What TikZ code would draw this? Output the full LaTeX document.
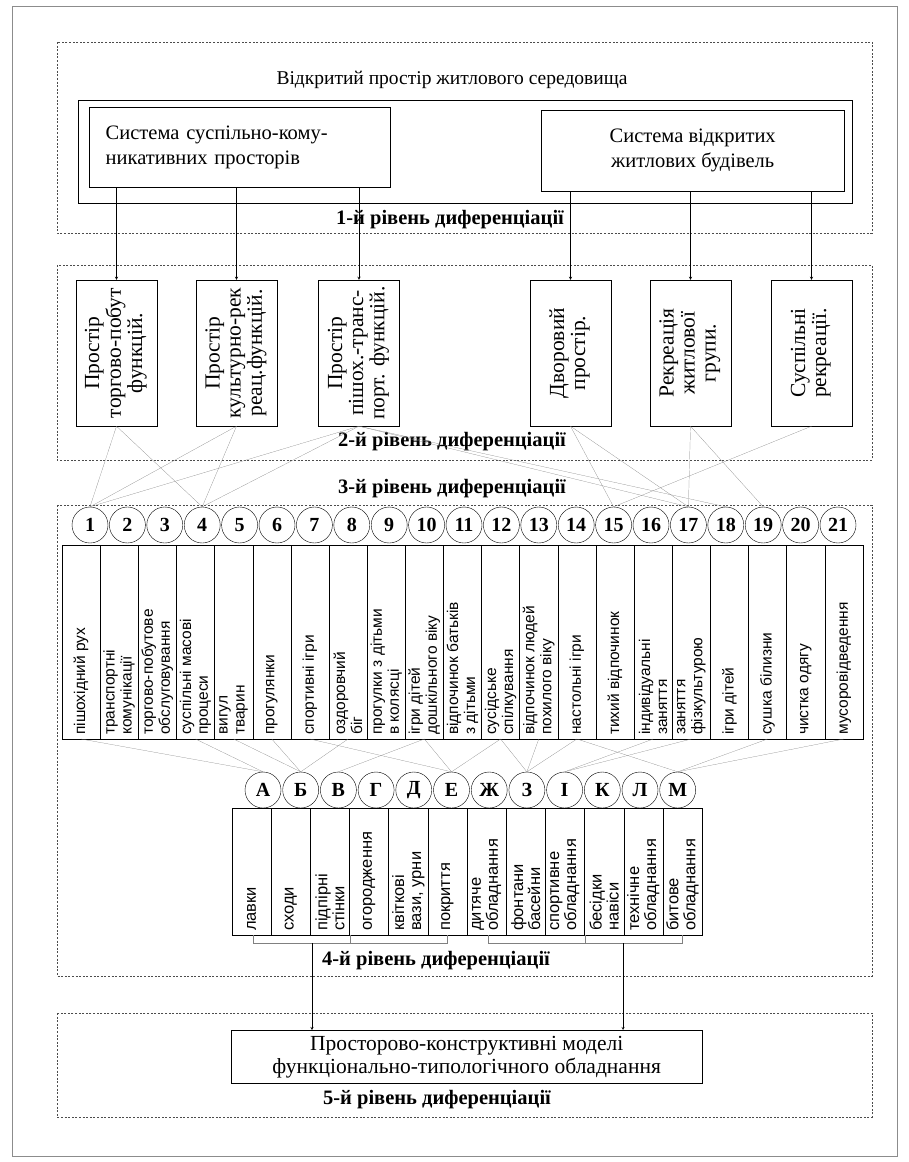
\documentclass[tikz,border=0pt]{standalone}
\usepackage{fontspec}
\setmainfont{Liberation Serif}
\setsansfont{Liberation Sans}
\usepackage{graphicx}
\usetikzlibrary{arrows}
\tikzstyle{frame} = [draw=black!70, dash pattern=on 2pt off 1.6pt]
\tikzstyle{sysbox} = [rectangle, draw=black, thin, inner sep=0pt, anchor=north west, font=\fontsize{20.5}{25}\selectfont]
\tikzstyle{space} = [rectangle, draw=black, thin, minimum width=81pt, minimum height=146pt, inner sep=0pt, font=\fontsize{21.5}{21}\selectfont]
\tikzstyle{num} = [circle, draw=black, thin, minimum size=36pt, inner sep=0pt, font=\fontsize{20}{20}\selectfont\bfseries]
\tikzstyle{lab} = [rotate=90, anchor=west, inner sep=0pt, align=left, font=\sffamily\fontsize{15.5}{17}\selectfont]
\tikzstyle{level} = [font=\fontsize{20.5}{20}\selectfont\bfseries]
\tikzstyle{arrow} = [thin,->,>=stealth]
\tikzstyle{link} = [black!50, very thin]

\begin{document}
\begin{tikzpicture}[x=1pt, y=-1pt]
\useasboundingbox (0,0) rectangle (909,1162);
\draw [black!45] (12,6) rectangle (897,1156);

\draw [frame] (57,42) rectangle (872,233);
\draw [frame] (57,265) rectangle (872,460);
\draw [frame] (57,505) rectangle (872,976);
\draw [frame] (57,1013) rectangle (872,1117);

\node (title) [font=\fontsize{19.5}{22}\selectfont] at (452,80) {Відкритий простір житлового середовища};
\draw (78,100) rectangle (852,203);
\node (sys1) [sysbox, minimum width=301pt, minimum height=80pt, text width=268pt, align=left] at (89,107) {Система суспільно-кому-\\никативних просторів};
\node (sys2) [sysbox, minimum width=303pt, minimum height=81pt, align=center] at (541,110) {Система відкритих\\житлових будівель};
\node (lev1) [level] at (450,220) {1-й рівень диференціації};

\node (sp1) [space] at (116.5,353) {\rotatebox{90}{\begin{tabular}{@{}c@{}}Простір\\торгово-побут\\функцій.\end{tabular}}};
\node (sp2) [space] at (236.5,353) {\rotatebox{90}{\begin{tabular}{@{}c@{}}Простір\\культурно-рек\\реац.функцій.\end{tabular}}};
\node (sp3) [space] at (359,353) {\rotatebox{90}{\begin{tabular}{@{}c@{}}Простір\\пішох.-транс-\\порт. функцій.\end{tabular}}};
\node (sp4) [space] at (570.5,353) {\rotatebox{90}{\begin{tabular}{@{}c@{}}Дворовий\\простір.\end{tabular}}};
\node (sp5) [space] at (690.5,353) {\rotatebox{90}{\begin{tabular}{@{}c@{}}Рекреація\\житлової\\групи.\end{tabular}}};
\node (sp6) [space] at (811.5,353) {\rotatebox{90}{\begin{tabular}{@{}c@{}}Суспільні\\рекреації.\end{tabular}}};
\node (lev2) [level] at (452,442) {2-й рівень диференціації};
\node (lev3) [level] at (452,489) {3-й рівень диференціації};

\foreach \s in {1,2,3}
  \draw [arrow] (sys1.south -| sp\s.north) -- (sp\s.north);
\foreach \s in {4,5,6}
  \draw [arrow] (sys2.south -| sp\s.north) -- (sp\s.north);

\foreach \i in {1,...,21}
  \node (n\i) [num] at ({90+37.4*(\i-1)},525) {\i};
\draw (62,545) rectangle (863,739);
\foreach \i in {1,...,20}
  \draw ({62+38.14*\i},545) -- ({62+38.14*\i},739);
\foreach \t [count=\i] in {пішохідний рух, {транспортні\\комунікації}, {торгово-побутове\\обслуговування},
    {суспільні масові\\процеси}, {вигул\\тварин}, прогулянки, спортивні ігри, {оздоровчий\\біг},
    {прогулки з дітьми\\в колясці}, {ігри дітей\\дошкільного віку}, {відпочинок батьків\\з дітьми},
    {сусідське\\спілкування}, {відпочинок людей\\похилого віку}, настольні ігри, тихий відпочинок,
    {індивідуальні\\заняття}, {заняття\\фізкультурою}, ігри дітей, сушка білизни, чистка одягу, мусоровідведення}
  \node (lab\i) [lab] at ({62+38.14*(\i-0.5)},735) {\t};
\foreach \i in {1,...,21}
  \coordinate (c\i) at ({62+38.14*(\i-0.5)},739);

\foreach \a/\b in {1/1,1/4,2/1,2/4,3/1,3/4,3/17,3/18,4/15,4/17,5/17,5/19,6/15}
  \draw [link] (sp\a.south) -- (n\b.north);

\foreach \l [count=\i] in {А,Б,В,Г,Д,Е,Ж,З,І,К,Л,М}
  \node (l\i) [num] at ({263+37.7*(\i-1)},790) {\l};
\foreach \a/\b in {1/1,4/1,5/2,6/2,8/2,7/6,10/3,10/6,12/6,12/8,13/8,14/8,14/12,16/9,17/9,19/12,21/12}
  \draw [link] (c\a) -- (l\b.north);

\draw (232,808) rectangle (702,935);
\foreach \i in {1,...,11}
  \draw ({232+39.17*\i},808) -- ({232+39.17*\i},935);
\foreach \t [count=\i] in {лавки, сходи, {підпірні\\стінки}, огородження, {квіткові\\вази, урни}, покриття,
    {дитяче\\обладнання}, {фонтани\\басейни}, {спортивне\\обладнання}, {бесідки\\навіси},
    {технічне\\обладнання}, {битове\\обладнання}}
  \node (eq\i) [lab, font=\sffamily\fontsize{16.5}{17}\selectfont] at ({232+39.17*(\i-0.5)},931) {\t};

\draw [link] (253,935) -- (253,943) -- (447,943) -- (447,935);
\draw [link] (350,935) -- (350,943);
\draw [link] (488,935) -- (488,943) -- (682,943) -- (682,935);
\draw [link] (585,935) -- (585,943);
\coordinate (b1) at (312,943);
\coordinate (b2) at (623,943);
\node (lev4) [level] at (436,961) {4-й рівень диференціації};

\node (model) [sysbox, minimum width=471pt, minimum height=53pt, align=center, font=\fontsize{21.5}{23}\selectfont] at (231,1030) {Просторово-конструктивні моделі\\функціонально-типологічного обладнання};
\draw [arrow] (b1) -- (b1 |- model.north);
\draw [arrow] (b2) -- (b2 |- model.north);
\node (lev5) [level] at (437,1100) {5-й рівень диференціації};
\end{tikzpicture}
\end{document}
